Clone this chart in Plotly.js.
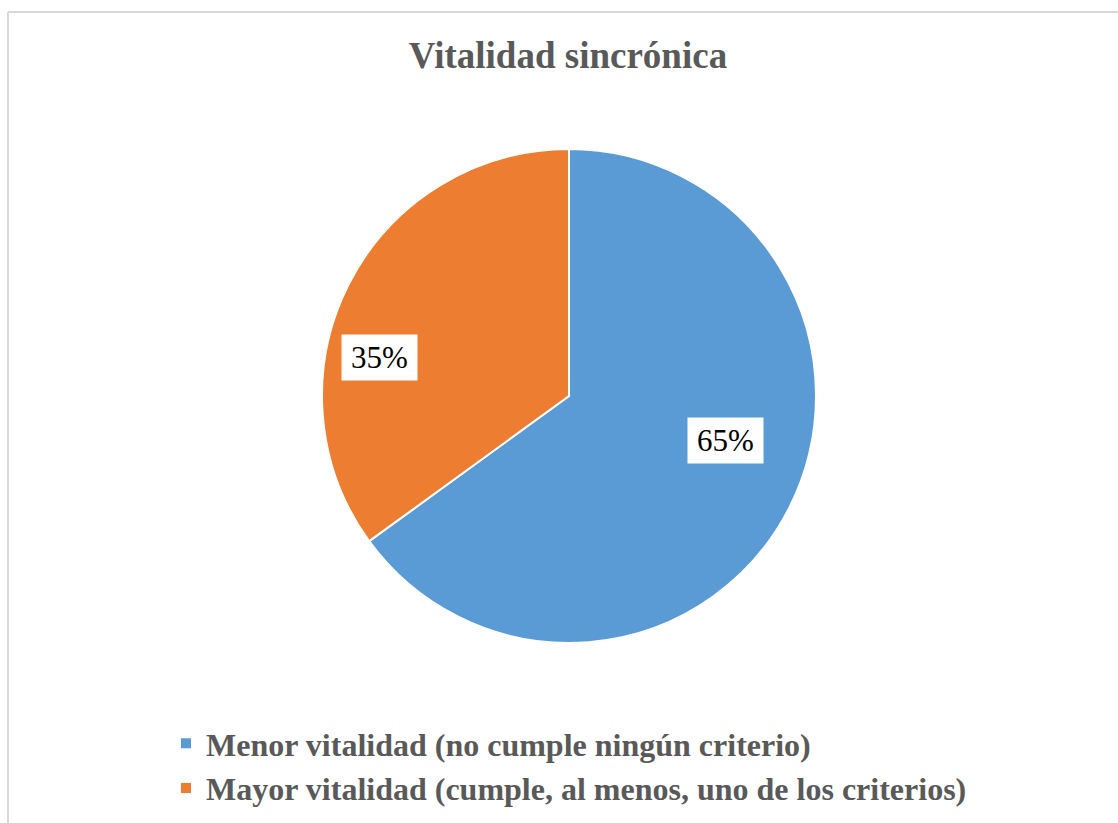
<!DOCTYPE html>
<html>
<head>
<meta charset="utf-8">
<script src="https://cdn.plot.ly/plotly-3.0.1.min.js"></script>
<style>html,body{margin:0;padding:0;background:#fff;}#chart{width:1118px;height:823px;}</style>
</head>
<body>
<div id="chart"></div>
<script>
const categories = ["Menor vitalidad (no cumple ningún criterio)", "Mayor vitalidad (cumple, al menos, uno de los criterios)"];
const values = [65, 35];
const colors = ["#5B9BD5", "#ED7D31"];
const chartTitle = "Vitalidad sincrónica";

const W = 1118, H = 823;
const SERIF = "'Liberation Serif', 'Times New Roman', 'DejaVu Serif', serif";
// label box centres (layout, in pixels)
const labelPos = [[725, 440], [379, 357]];

const total = values.reduce((a, b) => a + b, 0);
const annotations = values.map((v, i) => ({
  xref: "paper", yref: "paper",
  x: labelPos[i][0] / W, y: 1 - labelPos[i][1] / H,
  xanchor: "center", yanchor: "middle",
  text: Math.round(v / total * 100) + "%",
  showarrow: false,
  bgcolor: "#ffffff",
  borderpad: 0,
  width: 75, height: 45,
  font: {family: SERIF, size: 31, color: "#000000"}
}));

const trace = {
  type: "pie",
  labels: categories,
  values: values,
  sort: false,
  direction: "clockwise",
  rotation: 0,
  textinfo: "none",
  hoverinfo: "label+percent",
  marker: {colors: colors, line: {color: "#ffffff", width: 2}},
  domain: {x: [322 / W, 816 / W], y: [1 - 643 / H, 1 - 149 / H]}
};

const layout = {
  width: W, height: H,
  margin: {l: 0, r: 0, t: 0, b: 0},
  paper_bgcolor: "#ffffff",
  title: {
    text: chartTitle,
    x: 568 / W, xanchor: "center", xref: "paper",
    y: 1 - 55 / H, yanchor: "middle", yref: "paper",
    font: {family: SERIF, size: 37, color: "#595959", weight: "bold"}
  },
  showlegend: true,
  legend: {
    x: 166 / W, xanchor: "left",
    y: 1 - 716 / H, yanchor: "top",
    font: {family: SERIF, size: 32, color: "#595959", weight: "bold"},
    bgcolor: "rgba(0,0,0,0)"
  },
  annotations: annotations,
  shapes: [
    {type: "line", xref: "paper", yref: "paper", x0: 8 / W, x1: 1, y0: 1 - 12 / H, y1: 1 - 12 / H, line: {color: "#D9D9D9", width: 2}},
    {type: "line", xref: "paper", yref: "paper", x0: 8 / W, x1: 8 / W, y0: 1 - 12 / H, y1: 0, line: {color: "#D9D9D9", width: 2}}
  ]
};

Plotly.newPlot("chart", [trace], layout, {displayModeBar: false, staticPlot: true});
</script>
</body>
</html>
